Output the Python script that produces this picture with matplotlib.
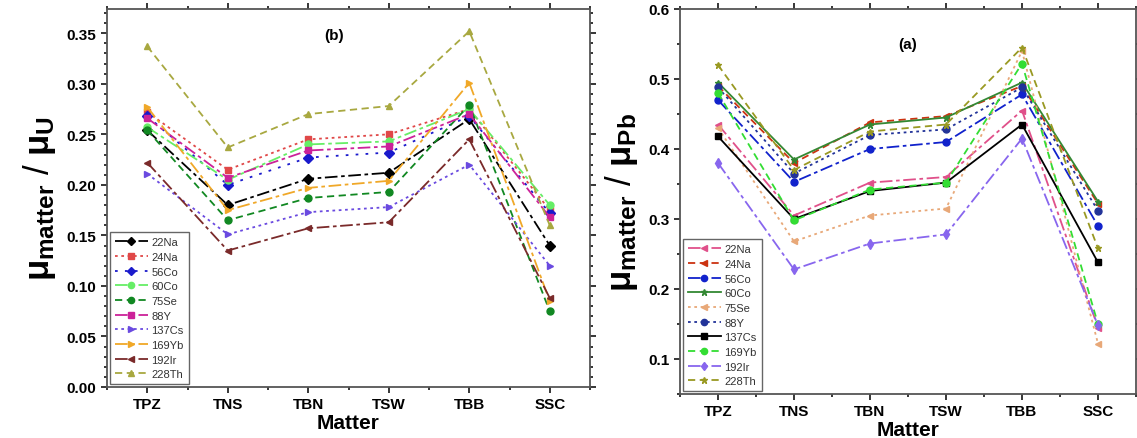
import matplotlib
matplotlib.use("Agg")
import matplotlib.pyplot as plt
from matplotlib.ticker import AutoMinorLocator, MultipleLocator

plt.rcParams["font.family"] = "Liberation Sans"
plt.rcParams["mathtext.fontset"] = "custom"
plt.rcParams["mathtext.rm"] = "Liberation Sans:bold"
plt.rcParams["mathtext.it"] = "Liberation Sans:bold"
plt.rcParams["mathtext.bf"] = "Liberation Sans:bold"

matter  = ["TPZ", "TNS", "TBN", "TSW", "TBB", "SSC"]
sources = ["22Na", "24Na", "56Co", "60Co", "75Se", "88Y", "137Cs", "169Yb", "192Ir", "228Th"]

# (b) mu_matter / mu_U
u_22Na  = [0.254, 0.180, 0.206, 0.212, 0.265, 0.140]
u_24Na  = [0.272, 0.215, 0.245, 0.250, 0.275, 0.175]
u_56Co  = [0.268, 0.200, 0.227, 0.232, 0.268, 0.172]
u_60Co  = [0.257, 0.205, 0.240, 0.243, 0.275, 0.180]
u_75Se  = [0.254, 0.165, 0.187, 0.193, 0.279, 0.075]
u_88Y   = [0.266, 0.207, 0.234, 0.238, 0.270, 0.168]
u_137Cs = [0.211, 0.151, 0.173, 0.178, 0.220, 0.120]
u_169Yb = [0.277, 0.175, 0.197, 0.204, 0.301, 0.085]
u_192Ir = [0.222, 0.135, 0.157, 0.163, 0.245, 0.088]
u_228Th = [0.337, 0.237, 0.270, 0.278, 0.352, 0.160]

# (a) mu_matter / mu_Pb
pb_22Na  = [0.435, 0.305, 0.352, 0.360, 0.455, 0.145]
pb_24Na  = [0.490, 0.380, 0.438, 0.447, 0.490, 0.322]
pb_56Co  = [0.470, 0.353, 0.400, 0.410, 0.478, 0.290]
pb_60Co  = [0.495, 0.385, 0.435, 0.445, 0.495, 0.325]
pb_75Se  = [0.430, 0.268, 0.305, 0.315, 0.540, 0.122]
pb_88Y   = [0.488, 0.365, 0.420, 0.428, 0.488, 0.312]
pb_137Cs = [0.418, 0.300, 0.340, 0.352, 0.435, 0.238]
pb_169Yb = [0.480, 0.298, 0.342, 0.352, 0.522, 0.150]
pb_192Ir = [0.380, 0.228, 0.265, 0.278, 0.415, 0.148]
pb_228Th = [0.520, 0.370, 0.425, 0.435, 0.545, 0.258]

u_data  = [u_22Na, u_24Na, u_56Co, u_60Co, u_75Se, u_88Y, u_137Cs, u_169Yb, u_192Ir, u_228Th]
pb_data = [pb_22Na, pb_24Na, pb_56Co, pb_60Co, pb_75Se, pb_88Y, pb_137Cs, pb_169Yb, pb_192Ir, pb_228Th]

dashdot  = (0, (7, 2, 2, 2))
dot      = (0, (1.5, 2))
dash     = (0, (4, 2.5))

u_style = [
    ("black",   "D", dashdot),
    ("#e04848", "s", dot),
    ("#1a1acc", "D", (0, (1.5, 4))),
    ("#66ee66", "o", dashdot),
    ("#118822", "o", dash),
    ("#cc2299", "s", dashdot),
    ("#6a4ae0", ">", dot),
    ("#f0a828", ">", dashdot),
    ("#7a2a2a", "<", dashdot),
    ("#a8a840", "^", dash),
]
pb_style = [
    ("#e0508a", "<", dashdot),
    ("#cc3311", "<", dash),
    ("#1122cc", "o", dashdot),
    ("#338833", "*", "-"),
    ("#e8a878", "<", dot),
    ("#223399", "o", dot),
    ("black",   "s", "-"),
    ("#33dd33", "o", dash),
    ("#8866ee", "d", dashdot),
    ("#999922", "*", dash),
]

fig = plt.figure(figsize=(11.37, 4.39), dpi=100)
ax_u  = fig.add_axes([107/1137, 51/439, 483/1137, 378/439])
ax_pb = fig.add_axes([680/1137, 44/439, 456/1137, 385/439])

x = range(len(matter))


def draw(ax, data, styles):
    for name, vals, (c, m, ls) in zip(sources, data, styles):
        ax.plot(x, vals, color=c, marker=m, linestyle=ls, lw=1.3, ms=5, label=name)
    ax.set_xlim(-0.5, len(matter) - 0.5)
    ax.set_xticks(list(x))
    ax.set_xticklabels(matter, fontweight="bold", fontsize=11)
    ax.xaxis.set_minor_locator(MultipleLocator(0.5))
    ax.set_xlabel("Matter", fontweight="bold", fontsize=15, labelpad=1)
    for sp in ax.spines.values():
        sp.set_linewidth(1.3)
        sp.set_color("#555555")
    ax.tick_params(which="both", direction="out", top=True, right=True, width=1.1)
    ax.tick_params(which="major", length=4)
    ax.tick_params(which="minor", length=2.5)
    for lab in ax.get_yticklabels():
        lab.set_fontweight("bold")
        lab.set_fontsize(11)
    leg = ax.legend(loc="lower left", fontsize=8, handlelength=3.0, handletextpad=0.3,
                    labelspacing=0.42, borderaxespad=0.25, borderpad=0.45,
                    fancybox=False, framealpha=1, edgecolor="#666666", markerscale=0.9)
    leg.get_frame().set_linewidth(1.0)
    for t in leg.get_texts():
        t.set_color("#333333")


ax_u.set_ylim(0, 0.374)
ax_u.yaxis.set_minor_locator(AutoMinorLocator(5))
ax_u.set_yticks([i * 0.05 for i in range(8)])
ax_u.set_yticklabels([f"{i * 0.05:.2f}" for i in range(8)])
draw(ax_u, u_data, u_style)
ax_u.set_ylabel(r"$\mu_{matter}$ / $\mu_{U}$", fontsize=25, labelpad=6)
ax_u.text(0.47, 0.93, "(b)", transform=ax_u.transAxes, ha="center", va="center",
          fontweight="bold", fontsize=11)

ax_pb.set_ylim(0.05, 0.6)
ax_pb.set_yticks([0.1, 0.2, 0.3, 0.4, 0.5, 0.6])
ax_pb.set_yticklabels(["0.1", "0.2", "0.3", "0.4", "0.5", "0.6"])
ax_pb.yaxis.set_minor_locator(AutoMinorLocator(2))
draw(ax_pb, pb_data, pb_style)
ax_pb.set_ylabel(r"$\mu_{matter}$ / $\mu_{Pb}$", fontsize=25, labelpad=6)
ax_pb.text(0.5, 0.91, "(a)", transform=ax_pb.transAxes, ha="center", va="center",
           fontweight="bold", fontsize=11)

fig.savefig("out.png", dpi=100)
